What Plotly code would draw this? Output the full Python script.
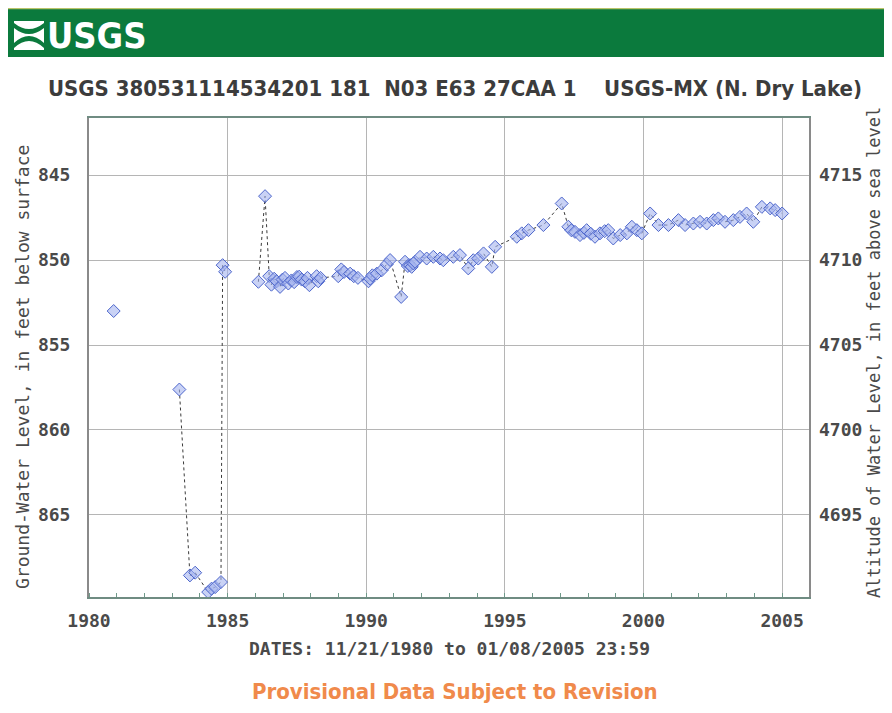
import plotly.graph_objects as go

# ---------------- data ----------------
LAND_SURFACE_ALT = 5560  # ft above sea level (depth 845 <-> altitude 4715)

years = [
    1980.89,
    1983.26, 1983.64, 1983.83, 1984.30, 1984.42, 1984.55, 1984.76, 1984.82, 1984.91,
    1986.11, 1986.35, 1986.50, 1986.58, 1986.68, 1986.77, 1986.89, 1986.98, 1987.07,
    1987.19, 1987.30, 1987.40, 1987.50, 1987.58, 1987.67, 1987.79, 1987.88, 1987.95,
    1988.21, 1988.27, 1988.35, 1988.99, 1989.10, 1989.20, 1989.42, 1989.55, 1989.70,
    1990.08, 1990.14, 1990.22, 1990.38, 1990.56, 1990.74, 1990.86,
    1991.26, 1991.40, 1991.50, 1991.58, 1991.64, 1991.70, 1991.76, 1991.94,
    1992.18, 1992.42, 1992.66, 1992.78, 1993.14, 1993.38, 1993.68, 1993.86,
    1994.04, 1994.23, 1994.53, 1994.65, 1995.43, 1995.61, 1995.85, 1996.39,
    1997.05, 1997.29, 1997.40, 1997.53, 1997.71, 1997.85, 1997.95, 1998.10, 1998.25,
    1998.43, 1998.60, 1998.73, 1998.91, 1999.16, 1999.40, 1999.58, 1999.76, 1999.94,
    2000.24, 2000.54, 2000.90, 2001.26, 2001.50, 2001.80, 2002.04, 2002.28, 2002.52,
    2002.70, 2002.94, 2003.24, 2003.48, 2003.72, 2003.96, 2004.27, 2004.57, 2004.75,
    2005.00,
]
depth_ft = [
    853.00,
    857.62, 868.56, 868.40, 869.54, 869.34, 869.25, 868.95, 850.30, 850.69,
    851.28, 846.24, 850.95, 851.45, 851.10, 851.25, 851.58, 851.15, 851.05,
    851.38, 851.20, 851.30, 851.00, 850.98, 851.15, 851.25, 851.05, 851.48,
    850.95, 851.25, 851.05, 850.95, 850.55, 850.70, 850.80, 850.95, 851.05,
    851.25, 851.10, 850.90, 850.80, 850.60, 850.25, 850.00,
    852.17, 850.10, 850.35, 850.30, 850.40, 850.20, 850.10, 849.81,
    849.91, 849.81, 849.91, 850.01, 849.81, 849.71, 850.49, 850.01,
    849.91, 849.61, 850.40, 849.22, 848.63, 848.43, 848.24, 847.94,
    846.67, 848.04, 848.25, 848.34, 848.53, 848.40, 848.24, 848.45, 848.63,
    848.43, 848.30, 848.24, 848.73, 848.53, 848.43, 848.04, 848.24, 848.43,
    847.26, 847.94, 847.94, 847.65, 847.94, 847.85, 847.75, 847.85, 847.65,
    847.55, 847.75, 847.65, 847.46, 847.26, 847.75, 846.87, 846.96, 847.06,
    847.26,
]
altitude_ft = [LAND_SURFACE_ALT - d for d in depth_ft]

x_ticks = [1980, 1985, 1990, 1995, 2000, 2005]
y_ticks = [845, 850, 855, 860, 865]
y2_ticks = [4695, 4700, 4705, 4710, 4715]

title_text = ("USGS 380531114534201 181\u00a0\u00a0N03 E63 27CAA 1"
              "\u00a0\u00a0\u00a0\u00a0USGS-MX (N. Dry Lake)")
x_title = "DATES: 11/21/1980 to 01/08/2005 23:59"
y_title = "Ground-Water Level, in feet below surface"
y2_title = "Altitude of Water Level, in feet above sea level"
footer = "Provisional Data Subject to Revision"

# line broken where measurements are more than a year apart
line_x, line_y = [], []
for i, (yr, d) in enumerate(zip(years, depth_ft)):
    if i > 0 and yr - years[i - 1] > 1.0:
        line_x.append(None)
        line_y.append(None)
    line_x.append(yr)
    line_y.append(d)

# ---------------- layout geometry ----------------
# the page body adds an 8px margin on every side; positions below are page pixels
OFF = 8
W, H = 892 - 2 * OFF, 713 - 2 * OFF
PLOT_L, PLOT_R, PLOT_T, PLOT_B = 89, 809, 118, 597   # page pixels
L, R = PLOT_L - OFF, W - (PLOT_R - OFF)
T, B = PLOT_T - OFF, H - (PLOT_B - OFF)
PW, PH = PLOT_R - PLOT_L, PLOT_B - PLOT_T


def px(x):
    return (x - PLOT_L) / PW


def py(y):
    return (PLOT_B - y) / PH


MONO = "DejaVu Sans Mono, Liberation Mono, monospace"
NARROW = "DejaVu Sans Condensed, Liberation Sans Narrow, Liberation Sans, sans-serif"

fig = go.Figure()
fig.add_trace(go.Scatter(
    x=line_x, y=line_y, mode="lines",
    line=dict(color="#3a3a3a", width=1, dash="dot"),
    hoverinfo="skip", showlegend=False))
fig.add_trace(go.Scatter(
    x=years, y=depth_ft, mode="markers",
    marker=dict(symbol="diamond", size=10, color="rgba(165,180,238,0.6)",
                line=dict(color="#4d66cc", width=1)),
    showlegend=False))
fig.add_trace(go.Scatter(
    x=years, y=altitude_ft, yaxis="y2", mode="markers",
    marker=dict(opacity=0), hoverinfo="skip", showlegend=False))

tickfont = dict(family=MONO, size=18, color="#4a4a4a", weight="bold")

fig.update_layout(
    width=W, height=H,
    margin=dict(l=L, r=R, t=T, b=B, pad=0),
    paper_bgcolor="white", plot_bgcolor="white",
    xaxis=dict(
        range=[1980, 2005.97], tickmode="array", tickvals=x_ticks,
        showgrid=True, gridcolor="#b5b5b5", gridwidth=1,
        showline=True, linecolor="#6f8c82", linewidth=2, mirror=True,
        ticks="", zeroline=False, tickfont=tickfont, ticklabelstandoff=6,
        minor=dict(dtick=1, tick0=1980, ticks="inside", ticklen=4,
                   tickcolor="#6f9a8a", showgrid=False),
    ),
    yaxis=dict(
        range=[869.83, 841.64], tickmode="array", tickvals=y_ticks,
        showgrid=True, gridcolor="#b5b5b5", gridwidth=1,
        showline=True, linecolor="#8a8a8a", linewidth=2, mirror=True,
        ticks="", zeroline=False, tickfont=tickfont, ticklabelstandoff=13,
    ),
    yaxis2=dict(
        overlaying="y", side="right",
        range=[LAND_SURFACE_ALT - 869.83, LAND_SURFACE_ALT - 841.64],
        tickmode="array", tickvals=y2_ticks, showgrid=False, showline=False,
        ticks="", zeroline=False, tickfont=tickfont, ticklabelstandoff=9,
    ),
    shapes=[
        # green USGS banner
        dict(type="rect", xref="paper", yref="paper",
             x0=px(0), x1=px(900), y0=py(57), y1=py(9),
             fillcolor="#0b7a3d", line=dict(width=0), layer="below"),
        dict(type="line", xref="paper", yref="paper",
             x0=px(0), x1=px(900), y0=py(8.5), y1=py(8.5),
             line=dict(color="#b9c46a", width=1.5)),
        # logo icon
        dict(type="rect", xref="paper", yref="paper",
             x0=px(14), x1=px(44), y0=py(50), y1=py(21),
             fillcolor="white", line=dict(width=0)),
        dict(type="path", xref="paper", yref="paper",
             path=(f"M {px(14)},{py(23)} Q {px(29)},{py(35)} {px(44)},{py(23)} "
                   f"L {px(44)},{py(28)} Q {px(29)},{py(40)} {px(14)},{py(28)} Z"),
             fillcolor="#0b7a3d", line=dict(width=0)),
        dict(type="path", xref="paper", yref="paper",
             path=(f"M {px(14)},{py(48)} Q {px(29)},{py(34)} {px(44)},{py(48)} "
                   f"L {px(44)},{py(43)} Q {px(29)},{py(29)} {px(14)},{py(43)} Z"),
             fillcolor="#0b7a3d", line=dict(width=0)),
    ],
    annotations=[
        dict(text="USGS", xref="paper", yref="paper", x=px(45), y=py(35),
             xanchor="left", yanchor="middle", showarrow=False,
             font=dict(family=NARROW, size=36, color="white", weight="bold")),
        dict(text=title_text, xref="paper", yref="paper", x=px(455), y=py(88),
             xanchor="center", yanchor="middle", showarrow=False,
             font=dict(family=NARROW, size=22, color="#3c3c3c", weight="bold")),
        dict(text=x_title, xref="paper", yref="paper", x=px(449), y=py(648),
             xanchor="center", yanchor="middle", showarrow=False,
             font=dict(family=MONO, size=18, color="#4a4a4a", weight="bold")),
        dict(text=y_title, xref="paper", yref="paper", x=px(22), y=py(367),
             xanchor="center", yanchor="middle", textangle=-90, showarrow=False,
             font=dict(family=MONO, size=18, color="#4a4a4a")),
        dict(text=y2_title, xref="paper", yref="paper", x=px(874), y=py(352),
             xanchor="center", yanchor="middle", textangle=-90, showarrow=False,
             font=dict(family=MONO, size=17, color="#4a4a4a")),
        dict(text=footer, xref="paper", yref="paper", x=px(455), y=py(691),
             xanchor="center", yanchor="middle", showarrow=False,
             font=dict(family=NARROW, size=22, color="#f08a4b", weight="bold")),
    ],
)

fig.write_html("out.html")
